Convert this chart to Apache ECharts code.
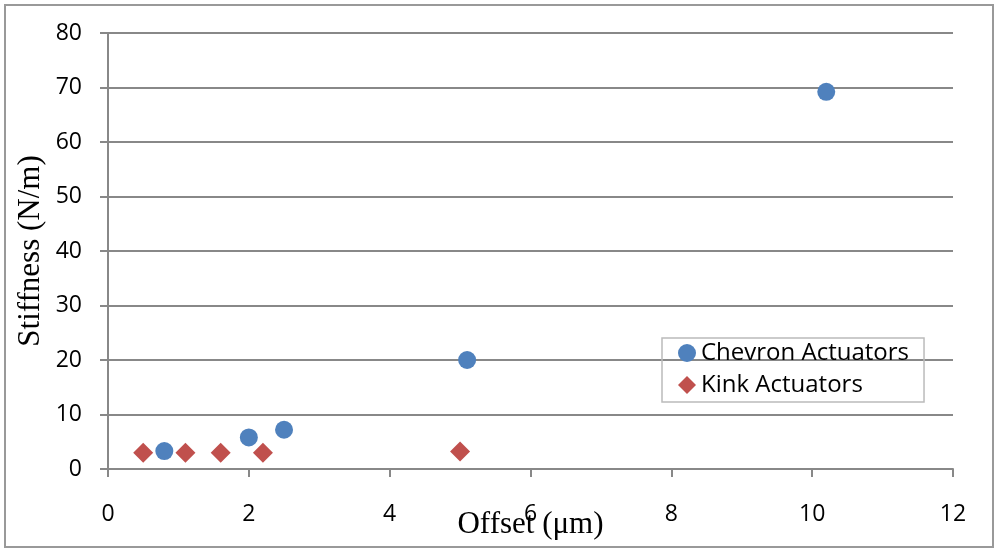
<!DOCTYPE html>
<html>
<head>
<meta charset="utf-8">
<script src="https://cdn.jsdelivr.net/npm/echarts@6/dist/echarts.min.js"></script>
<style>
  html, body { margin: 0; padding: 0; background: #fff; }
  #chart { width: 1000px; height: 554px; }
  #frame { position: absolute; left: 4px; top: 4px; width: 990px; height: 544px; border: 2px solid #999; box-sizing: border-box; pointer-events: none; }
</style>
</head>
<body>
<div id="chart"></div>
<div id="frame"></div>
<script>
// offset (um) vs stiffness (N/m)
var chevronX = [0.8, 2.0, 2.5, 5.1, 10.2];
var chevronY = [3.3, 5.8, 7.2, 20.0, 69.2];
var kinkX = [0.5, 1.1, 1.6, 2.2, 5.0];
var kinkY = [3.0, 3.0, 3.0, 3.0, 3.2];

function pairs(xs, ys) {
  var out = [];
  for (var i = 0; i < xs.length; i++) out.push([xs[i], ys[i]]);
  return out;
}

var chart = echarts.init(document.getElementById('chart'));
var option = {
  animation: false,
  grid: {
    left: 108,
    right: 47,
    top: 33,
    bottom: 85,
    containLabel: false,
    outerBoundsMode: 'none'
  },
  legend: {
    orient: 'vertical',
    left: 662,
    top: 338,
    itemWidth: 18,
    itemHeight: 18,
    itemGap: 8,
    padding: [3, 15, 5, 16],
    borderColor: '#bbb',
    borderWidth: 1.5,
    textStyle: {
      fontFamily: 'Open Sans',
      fontSize: 24,
      color: '#000'
    },
    data: ['Chevron Actuators', 'Kink Actuators']
  },
  xAxis: {
    type: 'value',
    min: 0,
    max: 12,
    interval: 2,
    name: 'Offset (\u03bcm)',
    nameLocation: 'middle',
    nameGap: 40,
    nameMoveOverlap: false,
    nameTextStyle: {
      fontFamily: 'Liberation Serif',
      fontSize: 31,
      color: '#000'
    },
    axisLine: { lineStyle: { color: '#888', width: 2 } },
    axisTick: { show: true, length: 8, lineStyle: { color: '#888', width: 2 } },
    axisLabel: {
      margin: 34,
      fontFamily: 'Open Sans',
      fontSize: 23,
      color: '#000'
    },
    splitLine: { show: false }
  },
  yAxis: {
    type: 'value',
    min: 0,
    max: 80,
    interval: 10,
    name: 'Stiffness (N/m)',
    nameLocation: 'middle',
    nameGap: 62,
    nameMoveOverlap: false,
    nameTextStyle: {
      fontFamily: 'Liberation Serif',
      fontSize: 31,
      color: '#000'
    },
    axisLine: { show: true, lineStyle: { color: '#888', width: 2 } },
    axisTick: { show: true, length: 8, lineStyle: { color: '#888', width: 2 } },
    axisLabel: {
      margin: 26,
      fontFamily: 'Open Sans',
      fontSize: 23,
      color: '#000'
    },
    splitLine: { show: true, lineStyle: { color: '#888', width: 2 } }
  },
  series: [{
    name: 'Chevron Actuators',
    type: 'scatter',
    symbol: 'circle',
    symbolSize: 18,
    itemStyle: { color: '#4F81BD', opacity: 1 },
    data: pairs(chevronX, chevronY)
  }, {
    name: 'Kink Actuators',
    type: 'scatter',
    symbol: 'diamond',
    symbolSize: 20,
    itemStyle: { color: '#C0504D', opacity: 1 },
    data: pairs(kinkX, kinkY)
  }]
};
chart.setOption(option);
</script>
</body>
</html>
